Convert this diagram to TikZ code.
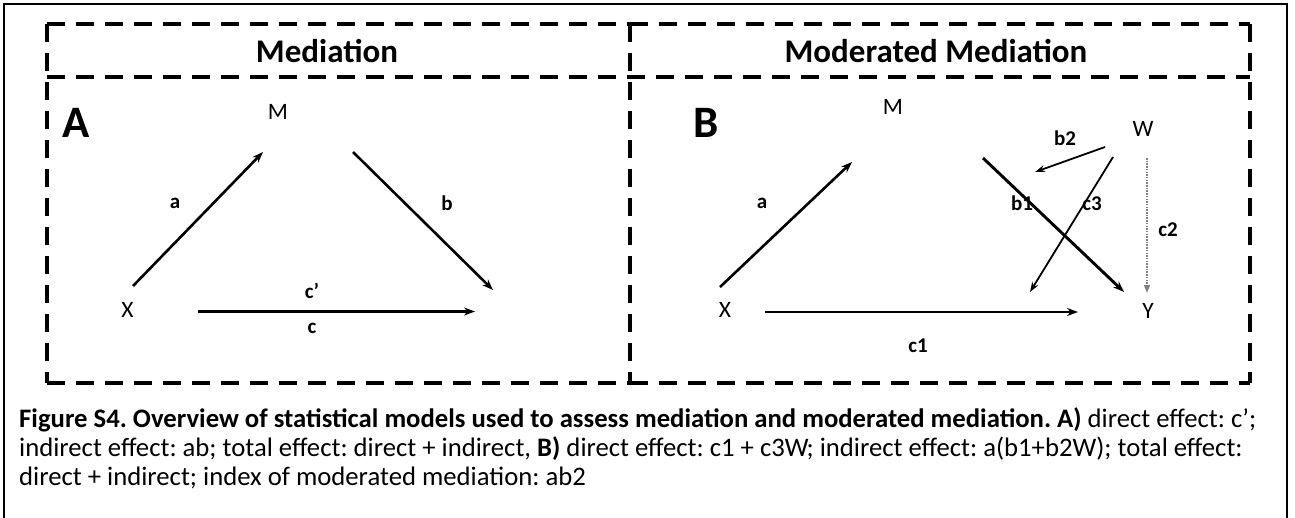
\documentclass[tikz,border=0pt]{standalone}
\usepackage{fontspec}
\setmainfont{Carlito}
\usetikzlibrary{arrows.meta}
\frenchspacing
\begin{document}
\begin{tikzpicture}[x=1pt,y=-1pt,
  box/.style={line width=3.6pt,dash pattern=on 18pt off 11pt},
  var/.style={font=\fontsize{23.5}{28}\selectfont,inner sep=0pt,anchor=base},
  lab/.style={font=\bfseries\fontsize{21}{24}\selectfont,inner sep=0pt,anchor=base},
  ttl/.style={font=\bfseries\fontsize{33}{38}\selectfont,inner sep=0pt,anchor=base},
  pan/.style={font=\bfseries\fontsize{45}{54}\selectfont,inner sep=0pt,anchor=base},
  captext/.style={font=\fontsize{26.7}{30}\selectfont,inner sep=0pt,anchor=base west},
  arr/.style={line width=2.6pt,-{Stealth[length=11pt,width=8pt]}},
  thinarr/.style={line width=1.8pt,-{Stealth[length=10pt,width=7pt]}},
  dotarr/.style={line width=1.5pt,gray,dash pattern=on 1.5pt off 1.2pt,-{Triangle[length=8pt,width=6pt]}}]
\useasboundingbox (0,0) rectangle (1295,517);
\draw[line width=2pt] (4,530) -- (4,4) -- (1287,4) -- (1287,530);
% dashed frame
\coordinate (tl) at (47,24); \coordinate (tr) at (1250,24);
\coordinate (bl) at (47,383); \coordinate (br) at (1250,383);
\coordinate (tm) at (630,24); \coordinate (bm) at (630,383);
\coordinate (sl) at (47,77); \coordinate (sr) at (1250,77);
\draw[box] (tl) -- (tm); \draw[box] (tm) -- (tr);
\draw[box] (tl) -- (bl); \draw[box] (bl) -- (bm); \draw[box] (bm) -- (br);
\draw[box] (tr) -- (br); \draw[box] (tm) -- (bm);
\draw[box] (sl) -- (sr);
% titles
\node[ttl] (t1) at (327,62) {Mediation};
\node[ttl] (t2) at (936,62) {Moderated Mediation};
% panel A
\node[pan] (A) at (76,137) {A};
\node[var] (MA) at (278,119) {M};
\node[var] (XA) at (127.5,317) {X};
\coordinate (a1s) at (133,286); \coordinate (a1e) at (263,152);
\coordinate (b1s) at (353,152); \coordinate (b1e) at (493,290);
\coordinate (c1s) at (198,311.5); \coordinate (c1e) at (475,311.5);
\draw[arr] (a1s) -- (a1e);
\draw[arr] (b1s) -- (b1e);
\draw[arr] (c1s) -- (c1e);
\node[lab] at (175,208) {a};
\node[lab] at (447,210) {b};
\node[lab] at (312,298) {c’};
\node[lab] at (312,333) {c};
% panel B
\node[pan] (B) at (706,137) {B};
\node[var] (MB) at (893,114) {M};
\node[var] (W) at (1143,136) {W};
\node[var] (XB) at (725,317) {X};
\node[var] (YB) at (1148,318) {Y};
\coordinate (a2s) at (720,287); \coordinate (a2e) at (852,162);
\coordinate (b2s) at (983,158); \coordinate (b2e) at (1124,292);
\coordinate (m2s) at (1105,147); \coordinate (m2e) at (1035,172);
\coordinate (c3s) at (1113,157); \coordinate (c3e) at (1030,292);
\coordinate (c2s) at (1147,158); \coordinate (c2e) at (1147,293);
\coordinate (k1s) at (765,312); \coordinate (k1e) at (1078,312);
\draw[arr] (a2s) -- (a2e);
\draw[arr,line width=2.9pt] (b2s) -- (b2e);
\draw[thinarr] (m2s) -- (m2e);
\draw[thinarr] (c3s) -- (c3e);
\draw[dotarr] (c2s) -- (c2e);
\draw[arr] (k1s) -- (k1e);
\node[lab] at (762,208) {a};
\node[lab] at (1065,145) {b2};
\node[lab] at (1022,210) {b1};
\node[lab] at (1092,210) {c3};
\node[lab] at (1168,236) {c2};
\node[lab] at (918,352) {c1};
% caption
\node[captext] (cap1) at (19,427) {\textbf{Figure S4. Overview of statistical models used to assess mediation and moderated mediation. A)} direct effect: c’;};
\node[captext] (cap2) at (19,456) {indirect effect: ab; total effect: direct + indirect, \textbf{B)} direct effect: c1 + c3W; indirect effect: a(b1+b2W); total effect:};
\node[captext] (cap3) at (19,485) {direct + indirect; index of moderated mediation: ab2};
\end{tikzpicture}
\end{document}
